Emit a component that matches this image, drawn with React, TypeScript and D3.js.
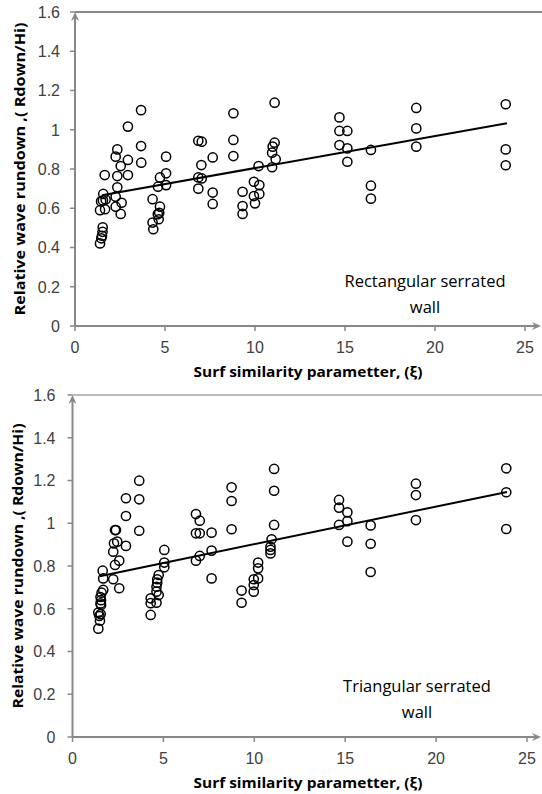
import React from "react";
import * as d3 from "d3";

// ---- data ----
const xTicks = [0, 5, 10, 15, 20, 25];
const yTicks = [0, 0.2, 0.4, 0.6, 0.8, 1, 1.2, 1.4, 1.6];

const rectX = [3.67, 2.94, 3.67, 2.35, 2.26, 2.94, 3.68, 5.06, 2.54, 1.65, 2.35, 2.94, 4.72, 5.06, 2.35, 4.61, 5.06, 1.57, 1.55, 1.45, 1.7, 2.26, 2.26, 2.59, 1.39, 1.67, 2.54, 4.31, 4.72, 4.68, 4.6, 4.65, 4.31, 4.35, 1.54, 1.53, 1.5, 1.46, 1.39,
  11.09, 8.8, 6.85, 7.04, 8.8, 11.09, 10.98, 10.95, 11.15, 10.95, 7.65, 8.8, 7.02, 10.2, 6.85, 7.04, 6.85, 7.65, 7.65, 9.94, 10.24, 9.31, 9.94, 10.24, 10.0, 9.31, 9.31,
  14.69, 14.69, 15.13, 14.69, 15.13, 15.13, 16.44, 16.44, 16.44, 18.96, 18.96, 18.96, 23.93, 23.93, 23.93];
const rectY = [1.1, 1.016, 0.917, 0.9, 0.863, 0.846, 0.832, 0.863, 0.815, 0.769, 0.764, 0.769, 0.757, 0.778, 0.707, 0.71, 0.718, 0.673, 0.64, 0.635, 0.645, 0.659, 0.608, 0.628, 0.59, 0.595, 0.571, 0.646, 0.608, 0.577, 0.57, 0.544, 0.527, 0.493, 0.503, 0.48, 0.46, 0.447, 0.421,
  1.138, 1.084, 0.944, 0.939, 0.948, 0.934, 0.914, 0.883, 0.85, 0.809, 0.859, 0.866, 0.82, 0.815, 0.757, 0.752, 0.7, 0.68, 0.622, 0.735, 0.718, 0.684, 0.662, 0.673, 0.625, 0.611, 0.571,
  1.063, 0.994, 0.994, 0.922, 0.905, 0.837, 0.897, 0.715, 0.649, 1.111, 1.007, 0.914, 1.13, 0.9, 0.819];

const triX = [3.67, 2.94, 3.67, 2.94, 2.34, 2.39, 3.67, 2.46, 2.28, 2.94, 2.24, 2.57, 2.34, 1.66, 1.69, 2.24, 2.57, 1.69, 1.6, 1.54, 1.57, 1.54, 1.57, 1.42, 1.55, 1.48, 1.51, 1.42,
  5.05, 5.05, 5.05, 4.74, 4.66, 4.66, 4.62, 4.62, 4.74, 4.3, 4.3, 4.62, 4.3,
  11.09, 8.75, 11.09, 8.75, 6.79, 7.0, 6.79, 7.0, 7.65, 8.75, 11.09, 10.95, 10.89, 10.89, 10.89, 7.0, 6.79, 7.65, 7.65, 10.21, 10.21, 10.21, 9.97, 9.97, 9.97, 9.3, 9.3,
  14.66, 14.66, 15.12, 15.12, 14.66, 15.12, 16.4, 16.4, 16.4, 18.89, 18.89, 18.89, 23.86, 23.86, 23.86];
const triY = [1.199, 1.117, 1.112, 1.034, 0.968, 0.968, 0.965, 0.914, 0.906, 0.894, 0.867, 0.825, 0.805, 0.778, 0.742, 0.738, 0.696, 0.688, 0.675, 0.655, 0.64, 0.625, 0.618, 0.582, 0.575, 0.566, 0.544, 0.507,
  0.875, 0.816, 0.794, 0.758, 0.738, 0.722, 0.703, 0.68, 0.664, 0.649, 0.626, 0.628, 0.571,
  1.254, 1.168, 1.152, 1.104, 1.043, 1.012, 0.953, 0.953, 0.956, 0.972, 0.992, 0.925, 0.89, 0.875, 0.859, 0.847, 0.825, 0.872, 0.742, 0.816, 0.789, 0.742, 0.738, 0.711, 0.68, 0.685, 0.628,
  1.109, 1.073, 1.051, 1.01, 0.992, 0.914, 0.99, 0.904, 0.772, 1.185, 1.132, 1.015, 1.257, 1.145, 0.973];

// linear trend lines: [intercept, slope], x-extent
const rectTrend = [0.642, 0.01629];
const triTrend = [0.726, 0.0176];
const rectTrendX = [1.5, 24];
const triTrendX = [1.5, 23.9];

const rectLabel = ["Rectangular serrated", "wall"];
const triLabel = ["Triangular serrated", "wall"];

const xTitle = "Surf similarity parametter, (ξ)";
const yTitle = "Relative wave rundown ,( Rdown/Hi)";

type PanelProps = {
  xs: number[];
  ys: number[];
  trend: number[];
  trendX: number[];
  label: string[];
  xRange: [number, number];
  yRange: [number, number];
  labelPos: [number, number];
  yTitleX: number;
  yTitleLen: number;
  yLabelGap: number;
  topLineColor: string;
  id: string;
};

const axisColor = "#888888";
const tickFont = "'Liberation Sans', Arial, sans-serif";
const titleFont = "'Open Sans', 'Noto Sans', sans-serif";

function Panel(p: PanelProps) {
  const x = d3.scaleLinear().domain([0, 25]).range(p.xRange);
  const y = d3.scaleLinear().domain([0, 1.6]).range(p.yRange);
  const [x0] = p.xRange;
  const [y0, y1] = p.yRange;
  const line = d3
    .line<number>()
    .x((d) => x(d))
    .y((d) => y(p.trend[0] + p.trend[1] * d));
  const midY = (y0 + y1) / 2;
  return (
    <g>
      {/* top frame line */}
      <line x1={x0} x2={542} y1={y1} y2={y1} stroke={p.topLineColor} strokeWidth={1.2} />
      {/* y axis */}
      <line x1={x0} x2={x0} y1={y0} y2={y1 + 2} stroke={axisColor} strokeWidth={2} />
      <path d={`M${x0},${y1} L${x0 - 4},${y1 + 9} L${x0},${y1 + 6} L${x0 + 4},${y1 + 9} Z`} fill={axisColor} />
      {yTicks.map((t) => (
        <g key={"y" + t}>
          <line x1={x0 - 5} x2={x0} y1={y(t)} y2={y(t)} stroke={axisColor} strokeWidth={1.5} />
          <text x={x0 - p.yLabelGap} y={y(t)} dy="0.36em" textAnchor="end" fontFamily={tickFont} fontSize={16} fill="#404040">
            {String(t)}
          </text>
        </g>
      ))}
      {/* x axis */}
      <line x1={x0} x2={538} y1={y0} y2={y0} stroke={axisColor} strokeWidth={2} />
      <path d={`M541,${y0} L532,${y0 - 4} L535,${y0} L532,${y0 + 4} Z`} fill={axisColor} />
      {xTicks.map((t) => (
        <g key={"x" + t}>
          <line x1={x(t)} x2={x(t)} y1={y0} y2={y0 + 5} stroke={axisColor} strokeWidth={1.5} />
          <text x={x(t)} y={y0 + 21} dy="0.36em" textAnchor="middle" fontFamily={tickFont} fontSize={16} fill="#404040">
            {String(t)}
          </text>
        </g>
      ))}
      {/* titles */}
      <text
        x={308}
        y={y0 + 46}
        dy="0.35em"
        textAnchor="middle"
        fontFamily={titleFont}
        fontWeight="bold"
        fontSize={14.5}
        textLength={229}
        lengthAdjust="spacingAndGlyphs"
        fill="#000"
      >
        {xTitle}
      </text>
      <text
        transform={`translate(${p.yTitleX},${midY}) rotate(-90)`}
        textAnchor="middle"
        dy="0.35em"
        fontFamily={titleFont}
        fontWeight="bold"
        fontSize={14.5}
        textLength={p.yTitleLen}
        lengthAdjust="spacingAndGlyphs"
        fill="#000"
      >
        {yTitle}
      </text>
      {/* trend line */}
      <path d={line(p.trendX) || ""} fill="none" stroke="#000" strokeWidth={2} />
      {/* points */}
      {p.xs.map((v, i) => (
        <circle key={p.id + i} cx={x(v)} cy={y(p.ys[i])} r={4.6} fill="none" stroke="#000" strokeWidth={1.5} />
      ))}
      {/* annotation */}
      {p.label.map((s, i) => (
        <text key={"l" + i} x={p.labelPos[0]} y={p.labelPos[1] + i * 26} textAnchor="middle" fontFamily={titleFont} fontSize={16.5} fill="#000">
          {s}
        </text>
      ))}
    </g>
  );
}

export default function App() {
  return (
    <svg width={542} height={794} style={{ position: "absolute", left: 0, top: 0, background: "#fff" }}>
      <Panel
        id="r"
        xs={rectX}
        ys={rectY}
        trend={rectTrend}
        trendX={rectTrendX}
        label={rectLabel}
        xRange={[75, 525]}
        yRange={[326, 12]}
        labelPos={[425, 287]}
        yTitleX={20}
        yTitleLen={293}
        yLabelGap={15}
        topLineColor="#111"
      />
      <Panel
        id="t"
        xs={triX}
        ys={triY}
        trend={triTrend}
        trendX={triTrendX}
        label={triLabel}
        xRange={[72.5, 527]}
        yRange={[737, 395]}
        labelPos={[417, 692]}
        yTitleX={18}
        yTitleLen={285}
        yLabelGap={17}
        topLineColor="#777"
      />
    </svg>
  );
}
